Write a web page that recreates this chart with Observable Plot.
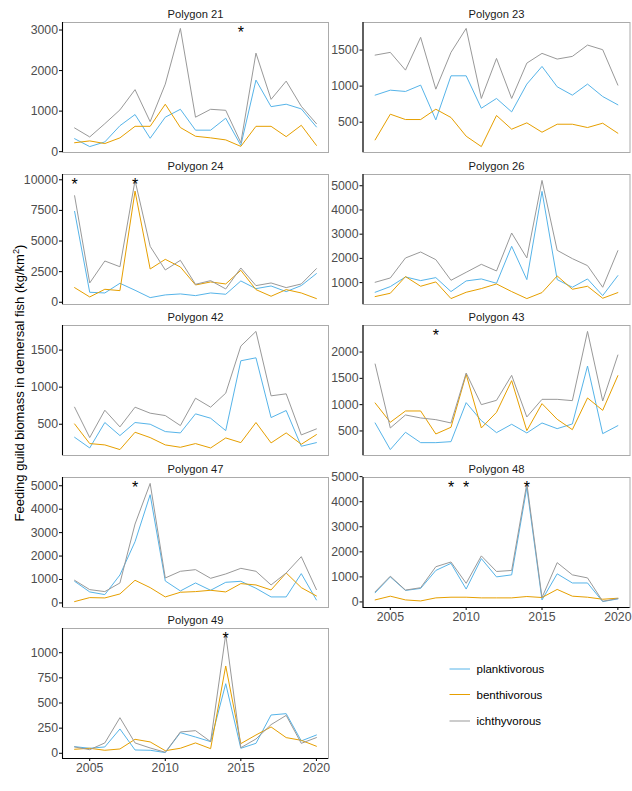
<!DOCTYPE html>
<html>
<head>
<meta charset="utf-8">
<script src="https://cdn.jsdelivr.net/npm/d3@7"></script>
<script src="https://cdn.jsdelivr.net/npm/@observablehq/plot@0.6"></script>
<style>
body { margin: 0; background: #fff; font-family: "Liberation Sans", Arial, sans-serif; }
#chart { position: relative; width: 632px; height: 791px; overflow: hidden; background: #fff; }
.panel { position: absolute; }
.panel svg { display: block; }
</style>
</head>
<body>
<div id="chart"></div>
<script>
// ---------- data ----------
const years = [2004,2005,2006,2007,2008,2009,2010,2011,2012,2013,2014,2015,2016,2017,2018,2019,2020];
const groups = ["planktivorous","benthivorous","ichthyvorous"];
const colors = ["#56B4E9","#E69F00","#999999"];
const xTicks = [2005,2010,2015,2020];

const p21_plank  = [320,125,240,640,915,330,850,1045,530,530,825,155,1765,1110,1170,1055,610];
const p21_benth  = [220,265,200,340,625,625,1170,595,380,340,290,130,625,625,370,650,155];
const p21_ichthy = [585,363,690,1030,1530,740,1665,3040,850,1045,1020,220,2430,1290,1740,1120,690];

const p23_plank  = [875,944,926,1014,532,1143,1143,694,829,643,1028,1273,991,875,1028,856,741];
const p23_benth  = [255,611,537,537,680,565,306,162,593,403,491,361,472,472,426,486,347];
const p23_ichthy = [1430,1468,1222,1676,958,1468,1800,829,1384,829,1319,1454,1375,1412,1569,1505,1014];

const p24_plank  = [7420,815,760,1549,980,380,600,680,543,760,652,1740,1114,1330,870,1360,2340];
const p24_benth  = [1196,435,1060,950,9076,2717,3505,2880,1413,1658,1495,2609,1033,490,1033,760,300];
const p24_ichthy = [8700,1576,3370,2900,9950,4565,2636,3424,1467,1766,1087,2800,1359,1576,1196,1495,2745];

const p26_plank  = [601,835,1234,1083,1206,629,1069,1151,973,2499,1124,4766,1124,808,1151,464,1289];
const p26_benth  = [423,560,1248,849,1028,340,601,753,945,629,340,588,1275,725,849,354,588];
const p26_ichthy = [1014,1192,2017,2264,1948,1096,1426,1756,1481,3048,2017,5220,2333,1990,1701,808,2319];

const p42_plank  = [324,180,523,347,523,500,401,383,640,581,414,1356,1396,590,685,203,252];
const p42_benth  = [504,239,221,158,392,320,221,189,239,180,315,252,523,248,383,230,360];
const p42_ichthy = [730,320,689,464,730,649,617,482,851,730,919,1554,1752,883,910,356,437];

const p43_plank  = [652,146,475,278,278,297,1038,696,468,627,462,652,544,633,1734,449,601];
const p43_benth  = [1032,665,880,880,443,570,1576,557,854,1456,506,1019,722,525,1127,892,1551];
const p43_ichthy = [1772,557,804,747,715,652,1601,1000,1082,1557,766,1101,1101,1076,2392,1070,1943];

const p47_plank  = [923,469,355,1193,2614,4617,937,511,852,540,880,923,625,256,256,1250,128];
const p47_benth  = [57,227,213,383,966,653,256,455,483,540,469,824,767,554,1278,653,298];
const p47_ichthy = [966,568,483,852,3366,5100,1065,1350,1420,1051,1236,1477,1350,767,1278,1974,568];

const p48_plank  = [365,1000,460,540,1257,1540,514,1730,1000,1081,4568,81,1122,757,757,14,122];
const p48_benth  = [81,230,81,40,162,189,189,162,162,162,216,176,500,230,189,108,149];
const p48_ichthy = [405,1027,473,568,1405,1595,743,1838,1216,1257,4730,176,1568,1081,959,27,135];

const p49_plank  = [66,50,63,242,33,30,7,205,162,116,692,50,99,381,394,123,182];
const p49_benth  = [40,50,30,43,139,113,26,50,103,46,868,96,182,262,156,129,70];
const p49_ichthy = [63,36,103,354,103,53,10,212,225,116,1182,56,142,285,377,99,156];

const ticks_p21 = [0,1000,2000,3000];
const ticks_p23 = [500,1000,1500];
const ticks_p24 = [0,2500,5000,7500,10000];
const ticks_p26 = [1000,2000,3000,4000,5000];
const ticks_p42 = [500,1000,1500];
const ticks_p43 = [500,1000,1500,2000];
const ticks_p47 = [0,1000,2000,3000,4000,5000];
const ticks_p48 = [0,1000,2000,3000,4000,5000];
const ticks_p49 = [0,250,500,750,1000];

const stars_p21 = [2015];
const stars_p23 = [];
const stars_p24 = [2004,2008];
const stars_p26 = [];
const stars_p42 = [];
const stars_p43 = [2008];
const stars_p47 = [2008];
const stars_p48 = [2009,2010,2014];
const stars_p49 = [2014];

const yTitle = "Feeding guild biomass in demersal fish (kg/km";

// ---------- layout ----------
const panels = [
  {title:"Polygon 21", col:0, row:0, s:[p21_plank,p21_benth,p21_ichthy], ticks:ticks_p21, stars:stars_p21, xaxis:false},
  {title:"Polygon 23", col:1, row:0, s:[p23_plank,p23_benth,p23_ichthy], ticks:ticks_p23, stars:stars_p23, xaxis:false},
  {title:"Polygon 24", col:0, row:1, s:[p24_plank,p24_benth,p24_ichthy], ticks:ticks_p24, stars:stars_p24, xaxis:false},
  {title:"Polygon 26", col:1, row:1, s:[p26_plank,p26_benth,p26_ichthy], ticks:ticks_p26, stars:stars_p26, xaxis:false},
  {title:"Polygon 42", col:0, row:2, s:[p42_plank,p42_benth,p42_ichthy], ticks:ticks_p42, stars:stars_p42, xaxis:false},
  {title:"Polygon 43", col:1, row:2, s:[p43_plank,p43_benth,p43_ichthy], ticks:ticks_p43, stars:stars_p43, xaxis:false},
  {title:"Polygon 47", col:0, row:3, s:[p47_plank,p47_benth,p47_ichthy], ticks:ticks_p47, stars:stars_p47, xaxis:false},
  {title:"Polygon 48", col:1, row:3, s:[p48_plank,p48_benth,p48_ichthy], ticks:ticks_p48, stars:stars_p48, xaxis:true},
  {title:"Polygon 49", col:0, row:4, s:[p49_plank,p49_benth,p49_ichthy], ticks:ticks_p49, stars:stars_p49, xaxis:true}
];
const cols = [{left:0, width:330, ml:62, mr:2}, {left:300, width:332, ml:62.5, mr:2.5}];
const rowTop = [22, 173.5, 325, 476.6, 628.2];
const boxH = 130;
const MT = 22;

const chart = document.getElementById("chart");
const yrExt = d3.extent(years);
const xPad = (yrExt[1] - yrExt[0]) * 0.05;
const xdom = [yrExt[0] - xPad, yrExt[1] + xPad];
const fmt = d => String(d);

panels.forEach(p => {
  const data = [];
  groups.forEach((g, i) => years.forEach((yr, j) => data.push({year: yr, value: p.s[i][j], group: g})));
  const ext = d3.extent(data, d => d.value);
  const pad = (ext[1] - ext[0]) * 0.05;
  const ydom = [ext[0] - pad, ext[1] + pad];
  const mb = p.xaxis ? 30 : 1;
  const c = cols[p.col];
  const marks = [
    Plot.frame({stroke: "#ababab", strokeWidth: 1}),
    Plot.line(data, {x: "year", y: "value", stroke: "group", z: "group", strokeWidth: 1}),
    Plot.axisY({ticks: p.ticks, label: null, tickSize: 3, tickPadding: 1.5, tickFormat: fmt, stroke: "#000", fill: "#4d4d4d", fontSize: 12.3, textStroke: "none"}),
    Plot.ruleX([xdom[0]], {stroke: "#000", strokeWidth: 1.1}),
    Plot.text(p.stars, {x: d => d, y: () => ext[1], text: () => "*", fontSize: 16, dy: 4, fill: "#000"}),
    Plot.text([p.title], {frameAnchor: "top", lineAnchor: "bottom", dy: -4.5, fontSize: 11.2, fill: "#1a1a1a"})
  ];
  if (p.xaxis) {
    marks.push(Plot.axisX({ticks: xTicks, label: null, tickSize: 3, tickPadding: 2, tickFormat: fmt, stroke: "#000", fill: "#4d4d4d", fontSize: 12.3, textStroke: "none"}));
    marks.push(Plot.ruleY([ydom[0]], {stroke: "#000", strokeWidth: 1.1}));
  }
  const plot = Plot.plot({
    width: c.width,
    height: MT + boxH + mb,
    marginLeft: c.ml, marginRight: c.mr, marginTop: MT, marginBottom: mb,
    x: {domain: xdom, axis: p.xaxis ? undefined : null, label: null},
    y: {domain: ydom, label: null},
    color: {domain: groups, range: colors},
    style: {background: "transparent", overflow: "visible", fontFamily: "Liberation Sans, Arial, sans-serif"},
    marks
  });
  const div = document.createElement("div");
  div.className = "panel";
  div.style.left = c.left + "px";
  div.style.top = (rowTop[p.row] - MT) + "px";
  div.appendChild(plot);
  chart.appendChild(div);
});

// ---------- y title & legend ----------
const ns = "http://www.w3.org/2000/svg";
const ov = document.createElementNS(ns, "svg");
ov.setAttribute("width", 632); ov.setAttribute("height", 791);
ov.style.position = "absolute"; ov.style.left = "0"; ov.style.top = "0"; ov.style.pointerEvents = "none";
ov.style.fontFamily = "Liberation Sans, Arial, sans-serif";
const yt = document.createElementNS(ns, "text");
yt.setAttribute("transform", "translate(24,383) rotate(-90)");
yt.setAttribute("text-anchor", "middle");
yt.setAttribute("font-size", "13");
yt.setAttribute("fill", "#000");
yt.appendChild(document.createTextNode(yTitle));
const sup = document.createElementNS(ns, "tspan");
sup.setAttribute("font-size", "9.2");
sup.setAttribute("dy", "-5");
sup.textContent = "2";
yt.appendChild(sup);
const close = document.createElementNS(ns, "tspan");
close.setAttribute("dy", "5");
close.textContent = ")";
yt.appendChild(close);
ov.appendChild(yt);

const legY = [669, 694.5, 721];
groups.forEach((g, i) => {
  const ln = document.createElementNS(ns, "line");
  ln.setAttribute("x1", 449.5); ln.setAttribute("x2", 470);
  ln.setAttribute("y1", legY[i]); ln.setAttribute("y2", legY[i]);
  ln.setAttribute("stroke", colors[i]); ln.setAttribute("stroke-width", 1);
  ov.appendChild(ln);
  const t = document.createElementNS(ns, "text");
  t.setAttribute("x", 476.5); t.setAttribute("y", legY[i]);
  t.setAttribute("dy", "0.35em");
  t.setAttribute("font-size", "11.5");
  t.setAttribute("fill", "#000");
  t.textContent = g;
  ov.appendChild(t);
});
chart.appendChild(ov);
</script>
</body>
</html>
